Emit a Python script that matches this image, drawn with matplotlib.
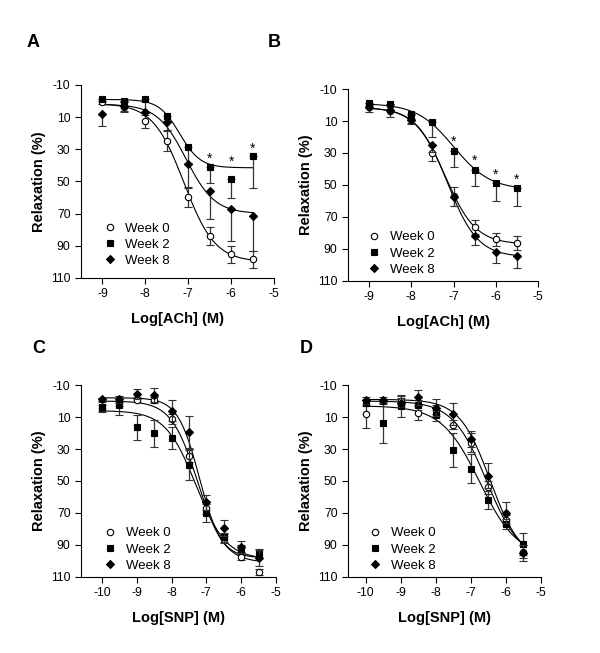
import numpy as np
import matplotlib
matplotlib.use('Agg')
import matplotlib.pyplot as plt
from matplotlib.lines import Line2D

plt.rcParams['font.family'] = ['Liberation Sans', 'DejaVu Sans']
plt.rcParams['axes.unicode_minus'] = False

labels = ['Week 0', 'Week 2', 'Week 8']

# ---- Panel A: ACh, log M ----
a_x = [-9, -8.5, -8, -7.5, -7, -6.5, -6, -5.5]
a_w0 = [0.4, 3.5, 12.2, 24.9, 59.6, 83.8, 95.2, 98.5]
a_w0_err = [1.5, 3, 4.8, 6, 6, 5.5, 5.3, 5.2]
a_w2 = [-1.3, -0.2, -1.1, 9.5, 28.6, 40.9, 48.5, 33.9]
a_w2_err = [1, 1, 7.7, 3, 10, 10, 12, 20]
a_w8 = [8.3, 3.1, 6.8, 13.3, 38.9, 56.0, 66.9, 71.2]
a_w8_err = [7.4, 3.5, 2, 5, 15, 17.6, 20, 22]
a_fit = [(1.5, 100, -7.1, 1.2), (-1, 41.5, -7.2, 1.8), (2, 70, -7.05, 1.3)]
a_star_x = [-6.5, -6, -5.5]
a_star_y = [35.6, 37.7, 29.4]

# ---- Panel B: ACh ----
b_x = [-9, -8.5, -8, -7.5, -7, -6.5, -6, -5.5]
b_w0 = [1.5, 3.6, 8.8, 30.3, 57.1, 76.3, 83.9, 86.4]
b_w0_err = [2.7, 4.2, 2.5, 5, 6, 4.4, 4, 4.5]
b_w2 = [-1.2, -0.8, 5.7, 10.5, 28.5, 40.4, 48.5, 51.7]
b_w2_err = [1, 1, 3, 9.6, 10, 10.2, 11.5, 11.3]
b_w8 = [1.0, 3.0, 9.6, 25.3, 57.3, 81.6, 92.0, 94.3]
b_w8_err = [1, 1, 2, 4, 6, 6, 7, 7.5]
b_fit = [(1.5, 87, -7.2, 1.2), (-1, 53, -7.0, 1.0), (1.5, 95, -7.15, 1.2)]
b_star_x = [-7, -6.5, -6, -5.5]
b_star_y = [22.9, 34.8, 43.7, 46.9]

# ---- Panel C: SNP ----
c_x = [-10, -9.5, -9, -8.5, -8, -7.5, -7, -6.5, -6, -5.5]
c_w0 = [4.2, 0.9, -0.8, -0.6, 11.3, 34.2, 66.8, 86.0, 97.5, 106.9]
c_w0_err = [2, 2, 1.5, 2, 3, 4, 4, 3, 2, 2]
c_w2 = [3.6, 2.7, 16.5, 20.3, 23.2, 40.1, 69.9, 85.2, 92.2, 95.4]
c_w2_err = [3, 6, 8, 8.5, 7, 9.4, 5.7, 3, 2, 3]
c_w8 = [-1.0, -1.0, -4.4, -3.7, 6.1, 19.2, 63.4, 79.3, 91.2, 97.9]
c_w8_err = [1, 2, 3, 4.4, 6.7, 10, 4.5, 5, 3.5, 5]
c_fit = [(0, 101, -7.25, 1.15), (6, 99, -7.3, 1.0), (-2, 98, -7.2, 1.4)]

# ---- Panel D: SNP ----
d_x = [-10, -9.5, -9, -8.5, -8, -7.5, -7, -6.5, -6, -5.5]
d_w0 = [8.1, -0.2, -0.2, 7.5, 5.4, 14.7, 26.0, 54.0, 74.2, 94.2]
d_w0_err = [9, 2, 3, 4.5, 3, 3, 5.8, 4, 3, 4]
d_w2 = [1.4, 13.9, 3.3, 2.5, 8.6, 30.6, 42.4, 61.8, 76.8, 89.4]
d_w2_err = [2, 12.5, 7, 3, 4, 10.4, 9, 5.6, 3, 7]
d_w8 = [-0.4, -0.4, 1.0, -2.3, 4.1, 8.1, 24.0, 46.6, 69.7, 95.0]
d_w8_err = [2, 1, 3, 4.6, 5.4, 6.9, 5, 7.7, 6.3, 5]
d_fit = [(0, 100, -6.55, 0.9), (3, 98, -6.75, 0.8), (-1, 100, -6.45, 1.0)]

markers = ['o', 's', 'D']
msizes = [4.6, 4.3, 4.3]


def logistic(x, y0, y1, ec, h):
    return y0 + (y1 - y0) / (1 + 10 ** ((ec - x) * h))


def draw_panel(ax, x, series, errs, fits, xlim, xticks, xlabel, one_sided, leg_anchor):
    xs = np.linspace(x[0], x[-1], 300)
    for fit in fits:
        ax.plot(xs, logistic(xs, *fit), color='black', lw=0.8, zorder=2)
    for i, (vals, err) in enumerate(zip(series, errs)):
        # filled series in the ACh panels only show the lower half of the bar
        if one_sided and i > 0:
            yerr = [np.zeros(len(err)), err]
        else:
            yerr = err
        face = 'white' if i == 0 else 'black'
        ax.errorbar(x, vals, yerr=yerr, fmt=markers[i], ms=msizes[i],
                    mfc=face, mec='black', mew=0.8, ecolor='#333333',
                    elinewidth=0.9, capsize=2.6, capthick=0.9, zorder=3 + i)
    ax.set_xlim(*xlim)
    ax.set_ylim(110, -10)
    ax.set_xticks(xticks)
    ax.set_xticklabels([str(t) for t in xticks])
    ax.set_yticks([-10, 10, 30, 50, 70, 90, 110])
    ax.spines['top'].set_visible(False)
    ax.spines['right'].set_visible(False)
    ax.tick_params(direction='out', length=4, width=0.8, labelsize=8.7)
    ax.set_xlabel(xlabel, fontsize=10.5, fontweight='bold', labelpad=8)
    ax.set_ylabel('Relaxation (%)', fontsize=10.5, fontweight='bold', labelpad=4)
    handles = []
    for i in range(3):
        face = 'white' if i == 0 else 'black'
        handles.append(Line2D([], [], ls='none', marker=markers[i], ms=msizes[i],
                              mfc=face, mec='black', mew=0.8))
    ax.legend(handles, labels, loc='lower left', bbox_to_anchor=leg_anchor,
              frameon=False, fontsize=9.5, handletextpad=0.6, labelspacing=0.3,
              borderaxespad=0, handlelength=1.2)


fig = plt.figure(figsize=(6, 6.53), dpi=100)
axA = fig.add_axes([0.135, 0.5743, 0.3217, 0.2956])
axB = fig.add_axes([0.580, 0.5697, 0.3167, 0.2940])
axC = fig.add_axes([0.135, 0.1164, 0.3250, 0.2940])
axD = fig.add_axes([0.580, 0.1164, 0.3217, 0.2940])

draw_panel(axA, a_x, [a_w0, a_w2, a_w8], [a_w0_err, a_w2_err, a_w8_err], a_fit,
           (-9.5, -5), [-9, -8, -7, -6, -5], 'Log[ACh] (M)', True, (0.08, 0.03))
draw_panel(axB, b_x, [b_w0, b_w2, b_w8], [b_w0_err, b_w2_err, b_w8_err], b_fit,
           (-9.5, -5), [-9, -8, -7, -6, -5], 'Log[ACh] (M)', True, (0.07, 0.0))
draw_panel(axC, c_x, [c_w0, c_w2, c_w8], [c_w0_err, c_w2_err, c_w8_err], c_fit,
           (-10.6, -5), [-10, -9, -8, -7, -6, -5], 'Log[SNP] (M)', False, (0.08, 0.0))
draw_panel(axD, d_x, [d_w0, d_w2, d_w8], [d_w0_err, d_w2_err, d_w8_err], d_fit,
           (-10.5, -5), [-10, -9, -8, -7, -6, -5], 'Log[SNP] (M)', False, (0.07, 0.0))

for sx, sy in zip(a_star_x, a_star_y):
    axA.text(sx, sy, '*', ha='center', va='center', fontsize=10)
for sx, sy in zip(b_star_x, b_star_y):
    axB.text(sx, sy, '*', ha='center', va='center', fontsize=10)

fig.text(0.045, 0.935, 'A', fontsize=13, fontweight='bold', va='center')
fig.text(0.447, 0.935, 'B', fontsize=13, fontweight='bold', va='center')
fig.text(0.053, 0.467, 'C', fontsize=13, fontweight='bold', va='center')
fig.text(0.499, 0.467, 'D', fontsize=13, fontweight='bold', va='center')

fig.savefig('out.png', dpi=100)
